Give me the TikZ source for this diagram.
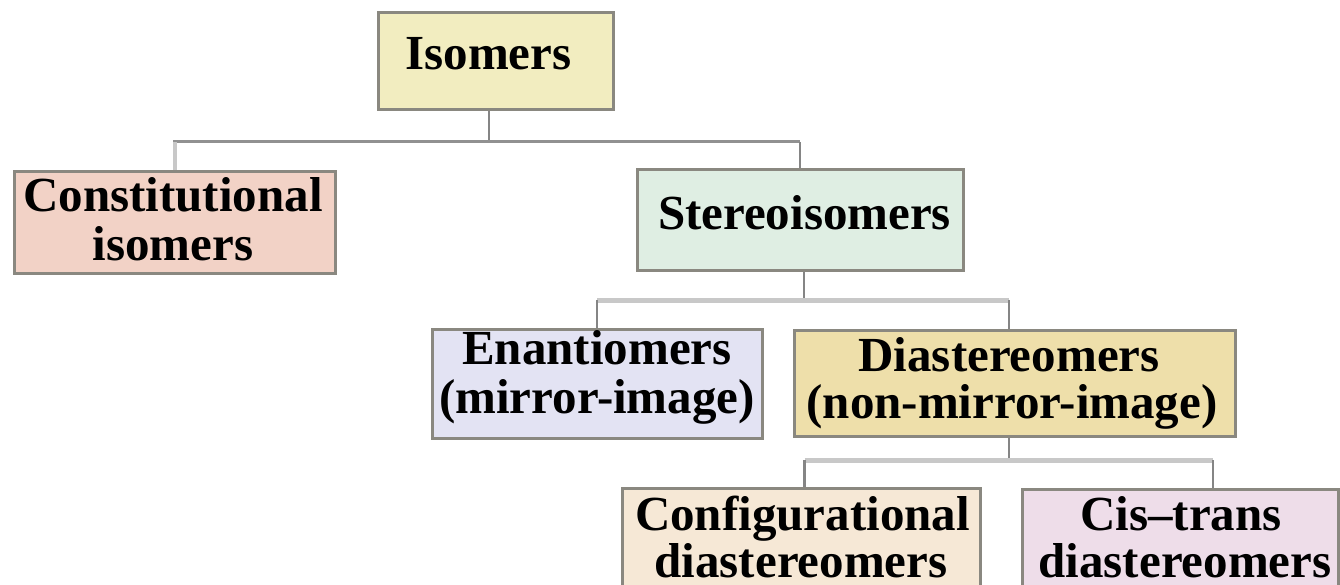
\documentclass[tikz,border=0pt]{standalone}
\usepackage{fontspec}
\setmainfont{Liberation Serif}
\definecolor{bordc}{HTML}{8A8880}
\definecolor{hlc}{HTML}{C8C8C8}
\definecolor{vlc}{HTML}{858585}
\definecolor{cIso}{HTML}{F2EDC0}
\definecolor{cCon}{HTML}{F2D2C6}
\definecolor{cSte}{HTML}{DFEEE3}
\definecolor{cEna}{HTML}{E3E3F3}
\definecolor{cDia}{HTML}{EEDFAA}
\definecolor{cCfg}{HTML}{F6E8D6}
\definecolor{cCis}{HTML}{EEDDE9}
\tikzset{
  box/.style={draw=bordc, line width=3pt, rectangle, inner sep=0pt},
  txt/.style={anchor=base, inner sep=0pt, font=\fontsize{49}{49}\selectfont\bfseries},
  hdark/.style={draw=vlc!90, line width=3pt},
  hlight/.style={draw=hlc, line width=5pt},
  vdark/.style={draw=vlc, line width=2.5pt},
  vlight/.style={draw=hlc, line width=4pt}
}
\begin{document}
\begin{tikzpicture}[x=1pt,y=-1pt]
\useasboundingbox (0,0) rectangle (1340,585);
\clip (0,0) rectangle (1340,585);
% boxes
\node[box, fill=cIso, minimum width=235pt, minimum height=97pt] (iso) at (495.5,61.5) {};
\node[box, fill=cCon, minimum width=321pt, minimum height=101pt] (con) at (174.5,222.5) {};
\node[box, fill=cSte, minimum width=326pt, minimum height=100pt] (st) at (800,220) {};
\node[box, fill=cEna, minimum width=330pt, minimum height=109pt] (en) at (597,383.5) {};
\node[box, fill=cDia, minimum width=441pt, minimum height=106pt] (di) at (1014.5,383) {};
\node[box, fill=cCfg, minimum width=358pt, minimum height=130pt] (cf) at (801,553) {};
\node[box, fill=cCis, minimum width=316pt, minimum height=130pt] (ct) at (1180,554) {};
% texts
\node[txt] (tiso) at (488.5,70) {Isomers};
\node[txt] (tcon1) at (173,212) {Constitutional};
\node[txt] (tcon2) at (173,260) {isomers};
\node[txt] (tst) at (804.5,230) {Stereoisomers};
\node[txt] (ten1) at (597,364) {Enantiomers};
\node[txt] (ten2) at (597,413) {(mirror-image)};
\node[txt] (tdi1) at (1009,371) {Diastereomers};
\node[txt] (tdi2) at (1012,418) {(non-mirror-image)};
\node[txt] (tcf1) at (802.5,530) {Configurational};
\node[txt] (tcf2) at (801,577) {diastereomers};
\node[txt] (tct1) at (1181,530) {Cis--trans};
\node[txt] (tct2) at (1185,577) {diastereomers};
% connectors
\coordinate (j1) at (489,142);
\coordinate (j2) at (804,300);
\coordinate (j3) at (1009,460);
\draw[vdark] (iso.south -| j1) -- (j1);
\draw[hdark] ([xshift=-1.5pt]j1 -| con.north) -- (j1 -| st.north);
\draw[vlight] (j1 -| con.north) -- (con.north);
\draw[vdark] (j1 -| st.north) -- (st.north);
\draw[vdark] (st.south -| j2) -- (j2);
\draw[hlight] (j2 -| en.north) -- (j2 -| tdi1.base);
\draw[vdark] (j2 -| en.north) -- (en.north);
\draw[vdark] (j2 -| tdi1.base) -- (di.north -| tdi1.base);
\draw[vdark] (di.south -| j3) -- (j3);
\draw[hlight] (j3 -| tst.base) -- ([xshift=33pt]j3 -| ct.north);
\draw[vdark] (j3 -| tst.base) -- (cf.north -| tst.base);
\draw[vdark] ([xshift=33pt]j3 -| ct.north) -- ([xshift=33pt]ct.north);
\end{tikzpicture}
\end{document}
